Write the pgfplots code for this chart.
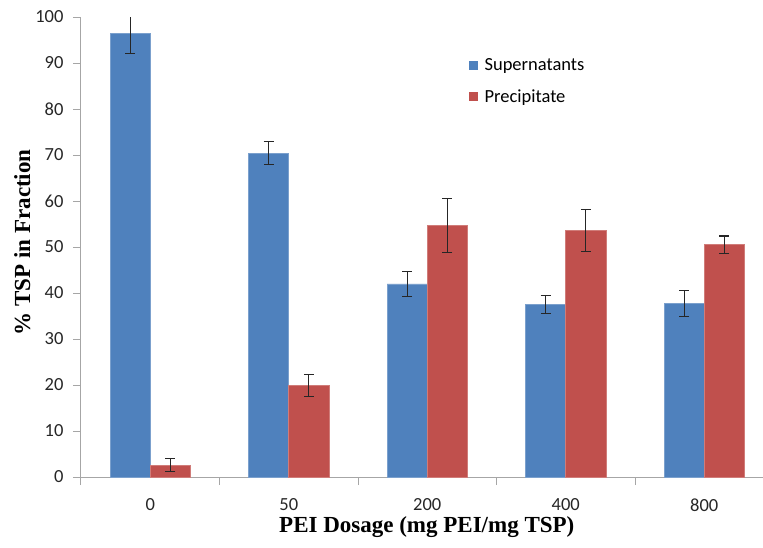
\documentclass[border=0pt]{standalone}
\usepackage{pgfplots}
\pgfplotsset{compat=1.18}
\usepackage{fontspec}
\setmainfont{Carlito}
\newfontfamily\tnr{Liberation Serif}
\definecolor{sup}{HTML}{4F81BD}
\definecolor{pre}{HTML}{C0504D}
\definecolor{axgray}{HTML}{A6A6A6}

\begin{document}
\begin{tikzpicture}
\useasboundingbox (-81pt,-70pt) rectangle (682pt,477pt);
\begin{axis}[
  scale only axis, width=682pt, height=460pt,
  xmin=-0.5, xmax=4.424, ymin=0, ymax=100,
  axis x line*=bottom, axis y line*=left,
  axis line style={draw=axgray, line width=1pt},
  ytick={0,10,...,100},
  xtick={0,1,2,3,4},
  xticklabels={0,50,200,400,800},
  minor xtick={-0.5,0.5,1.5,2.5,3.5},
  tick align=outside,
  major tick length=8pt, minor tick length=8pt,
  every tick/.style={axgray, line width=1pt},
  every major x tick/.style={draw=none},
  /pgf/number format/assume math mode=true,
  ticklabel style={font=\fontsize{18.5}{22}\selectfont, black!85},
  xticklabel style={yshift=-10pt},
  yticklabel style={xshift=-6pt},
  xlabel={PEI Dosage (mg PEI/mg TSP)},
  ylabel={\% TSP in Fraction},
  xlabel style={font=\tnr\bfseries\fontsize{23}{27}\selectfont, at={(axis description cs:0.507,0)}, anchor=center, yshift=-50pt},
  ylabel style={font=\tnr\bfseries\fontsize{23}{27}\selectfont, at={(axis description cs:-0.086,0.51)}, anchor=center},
  legend style={at={(0.568,0.915)}, anchor=north west, draw=none, fill=none, font=\fontsize{18.5}{22}\selectfont, row sep=14pt, inner sep=0pt},
  legend cell align=left,
  legend image code/.code={\path[draw=none, fill=none] (0pt,0pt) -- (14pt,0pt); \fill[#1, draw=none] (0pt,-4.5pt) rectangle (9pt,4.5pt);},
]
\addplot[ybar, bar width=0.29, bar shift=0, fill=sup, draw=sup!75!white, line width=0.6pt,
  error bars/.cd, y dir=both, y explicit,
  error bar style={line width=1.1pt, black!85},
  error mark options={rotate=90, mark size=5pt, line width=1.1pt, black!85}]
coordinates {(-0.145,96.5) +- (0,4.4) (0.855,70.4) +- (0,2.5) (1.855,42.0) +- (0,2.7) (2.855,37.5) +- (0,2.0) (3.855,37.7) +- (0,2.8)};
\addlegendentry{Supernatants}
\addplot[ybar, bar width=0.29, bar shift=0, fill=pre, draw=pre!75!white, line width=0.6pt,
  error bars/.cd, y dir=both, y explicit,
  error bar style={line width=1.1pt, black!85},
  error mark options={rotate=90, mark size=5pt, line width=1.1pt, black!85}]
coordinates {(0.145,2.6) +- (0,1.5) (1.145,19.9) +- (0,2.4) (2.145,54.7) +- (0,5.8) (3.145,53.6) +- (0,4.6) (4.145,50.5) +- (0,1.9)};
\addlegendentry{Precipitate}
\end{axis}
\end{tikzpicture}
\end{document}
